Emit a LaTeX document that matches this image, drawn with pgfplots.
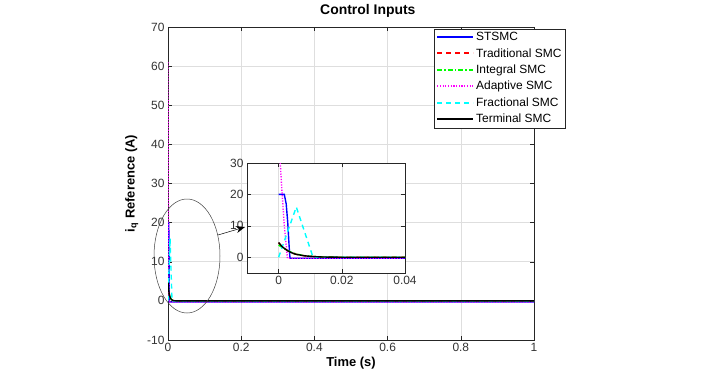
\documentclass[border=0pt]{standalone}
\usepackage{pgfplots}
\pgfplotsset{compat=1.18}
\usepackage{fontspec}
\setmainfont{Liberation Sans}
\usetikzlibrary{arrows.meta}

\definecolor{mgrid}{gray}{0.87}
\definecolor{maxis}{gray}{0.15}
\definecolor{cblue}{rgb}{0,0,1}
\definecolor{cred}{rgb}{1,0,0}
\definecolor{cgreen}{rgb}{0,1,0}
\definecolor{cmag}{rgb}{1,0,1}
\definecolor{ccyan}{rgb}{0,1,1}

\pgfplotstableread{
t y
0 20
0.0018 20
0.0024 17
0.0029 11
0.0033 4
0.0036 -0.3
1 -0.3
}\stsmc
\pgfplotstableread{
t y
0 4.6
0.001 3.5
0.002 2.7
0.003 2.0
0.004 1.5
0.005 1.1
0.006 0.85
0.008 0.5
0.010 0.3
0.013 0.12
0.016 0.05
0.02 0.02
0.03 0
1 0
}\trad
\pgfplotstableread{
t y
0 3.9
0.001 3.2
0.002 2.6
0.003 2.1
0.004 1.6
0.005 1.25
0.006 0.95
0.008 0.55
0.010 0.32
0.013 0.14
0.016 0.06
0.02 0.02
0.03 0
1 0
}\integ
\pgfplotstableread{
t y
0 61
0.0004 32
0.001 22
0.0018 10
0.0028 -0.3
1 -0.3
}\adapt
\pgfplotstableread{
t y
0 0
0.0056 16
0.0109 0
1 0
}\fracsmc
\pgfplotstableread{
t y
0 4.7
0.001 3.5
0.002 2.7
0.003 2.0
0.004 1.5
0.005 1.1
0.006 0.85
0.008 0.5
0.010 0.3
0.013 0.12
0.016 0.05
0.02 0.02
0.03 0
1 0
}\term

\pgfplotsset{
  mstyle/.style={
    scale only axis,
    axis line style={maxis, line width=0.6pt},
    tick style={maxis, line width=0.5pt},
    tick align=inside,
    major tick length=4bp,
    grid=major,
    grid style={mgrid, line width=0.6pt},
    ticklabel style={font=\fontsize{12}{14}\selectfont, text=black!80},
    /pgf/number format/assume math mode=true,
    scaled ticks=false,
    clip=true,
  },
  s1/.style={color=cblue, line width=1.4pt},
  s2/.style={color=cred, line width=1.4pt, dash pattern=on 5bp off 4bp},
  s3/.style={color=cgreen, line width=1.4pt, dash pattern=on 5bp off 2bp on 1.5bp off 2bp},
  s4/.style={color=cmag, line width=1.4pt, dash pattern=on 1.2bp off 1.5bp},
  s5/.style={color=ccyan, line width=1.4pt, dash pattern=on 5bp off 4bp},
  s6/.style={color=black, line width=1.4pt},
}

\begin{document}
\begin{tikzpicture}[x=1bp,y=1bp]
\path[use as bounding box] (0,0) rectangle (718,381);
\begin{axis}[mstyle,
  at={(168bp,41bp)}, anchor=south west,
  width=366bp, height=313bp,
  xmin=0, xmax=1, ymin=-10, ymax=70,
  xtick={0,0.2,...,1}, ytick={-10,0,...,70},
  xticklabels={0,0.2,0.4,0.6,0.8,1},
  title={\textbf{Control Inputs}},
  title style={at={(0.546,1)}, anchor=south, yshift=0bp, font=\fontsize{14}{16}\selectfont},
  xlabel={\textbf{Time (s)}},
  ylabel={\textbf{i\textsubscript{q} Reference (A)}},
  xlabel style={font=\fontsize{13}{15}\selectfont, yshift=2bp},
  ylabel style={font=\fontsize{13}{15}\selectfont, yshift=2bp},
  legend style={at={(1.085,0.995)}, anchor=north east, draw=maxis,
    font=\fontsize{12}{14}\selectfont, row sep=2.3bp, inner sep=1.5bp},
  legend image code/.code={\draw[#1, line width=2bp] (0bp,0bp) -- (36bp,0bp);},
  legend cell align=left,
]
\addplot[s1] table {\stsmc};
\addlegendentry{STSMC}
\addplot[s2] table {\trad};
\addlegendentry{Traditional SMC}
\addplot[s3] table {\integ};
\addlegendentry{Integral SMC}
\addplot[s4] table {\adapt};
\addlegendentry{Adaptive SMC}
\addplot[s5] table {\fracsmc};
\addlegendentry{Fractional SMC}
\addplot[s6] table {\term};
\addlegendentry{Terminal SMC}
\end{axis}
\draw[black!75, line width=0.5pt] (187,125) ellipse [x radius=33, y radius=57];
\begin{axis}[mstyle,
  at={(247bp,108bp)}, anchor=south west,
  width=158bp, height=110bp,
  axis background/.style={fill=white},
  xmin=-0.01, xmax=0.04, ymin=-5, ymax=30,
  xtick={0,0.02,0.04}, ytick={0,10,20,30},
  xticklabels={0,0.02,0.04},
  axis line style={maxis, line width=0.9pt},
]
\addplot[s1] table {\stsmc};
\addplot[s2] table {\trad};
\addplot[s3] table {\integ};
\addplot[s4] table {\adapt};
\addplot[s5] table {\fracsmc};
\addplot[s6] table {\term};
\end{axis}
\draw[-{Stealth[length=9bp,width=7bp]}, black, line width=0.5pt] (218,146) -- (245,154);
\end{tikzpicture}
\end{document}
